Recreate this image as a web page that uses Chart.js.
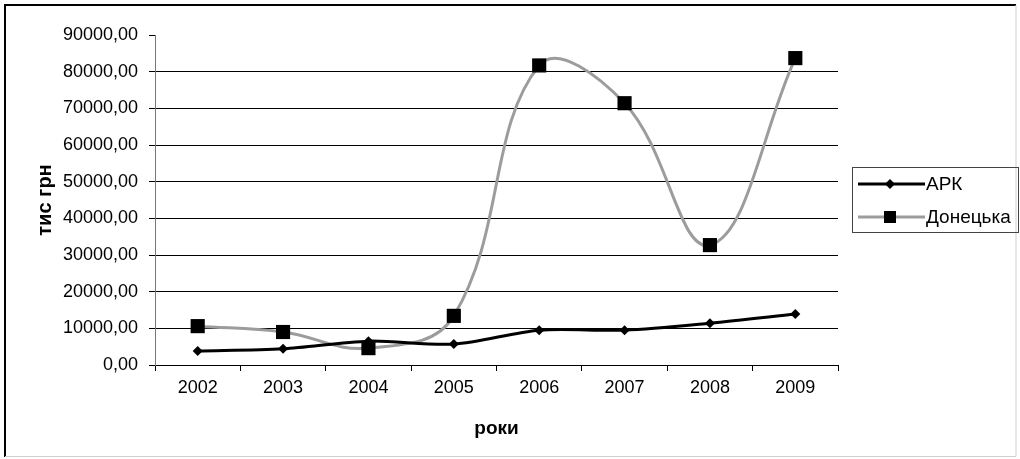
<!DOCTYPE html>
<html lang="uk">
<head>
  <meta charset="UTF-8">
  <title>АРК / Донецька</title>
  <script src="https://cdn.jsdelivr.net/npm/chart.js"></script>
  <style>
    body {
      margin: 0;
      background: #fff;
    }
    .wrap {
      width: 1020px;
      height: 459px;
    }
  </style>
</head>
<body>
  <div class="wrap"><canvas id="chart" width="1020" height="459"></canvas></div>

  <script>
    const roky = ['2002', '2003', '2004', '2005', '2006', '2007', '2008', '2009'];
    const ark = [3800, 4400, 6500, 5700, 9500, 9500, 11400, 13900];
    const donetska = [10600, 9000, 4600, 13400, 81700, 71400, 32700, 83700];

    const font = 'Liberation Sans, Arial, sans-serif';

    // рамка навколо діаграми і легенда праворуч
    const framePlugin = {
      id: 'frame',
      afterDraw(chart) {
        const c = chart.ctx;
        c.save();
        c.strokeStyle = '#000';
        c.lineWidth = 2;
        c.beginPath();
        c.moveTo(5, 457);
        c.lineTo(5, 5);
        c.lineTo(1016, 5);
        c.stroke();
        c.strokeStyle = '#cfcfcf';
        c.lineWidth = 1;
        c.beginPath();
        c.moveTo(1016, 5);
        c.lineTo(1016, 456.5);
        c.lineTo(5, 456.5);
        c.stroke();

        // легенда
        c.strokeStyle = '#444';
        c.lineWidth = 1;
        c.strokeRect(852.5, 167.5, 166, 65);
        c.font = '19px ' + font;
        c.textBaseline = 'middle';
        chart.data.datasets.forEach((ds, i) => {
          const y = 184 + i * 33;
          c.strokeStyle = ds.borderColor;
          c.lineWidth = 3;
          c.beginPath();
          c.moveTo(858, y);
          c.lineTo(925, y);
          c.stroke();
          c.fillStyle = '#000';
          c.beginPath();
          if (ds.pointStyle === 'rect') {
            c.rect(884, y - 6, 12, 12);
          } else {
            c.moveTo(890, y - 5);
            c.lineTo(895, y);
            c.lineTo(890, y + 5);
            c.lineTo(885, y);
            c.closePath();
          }
          c.fill();
          c.fillText(ds.label, 926, y + 1);
        });
        c.restore();
      }
    };

    const ctx = document.getElementById('chart').getContext('2d');
    const chart = new Chart(ctx, {
      type: 'line',
      data: {
        labels: roky,
        datasets: [
          {
            label: 'АРК',
            data: ark,
            borderColor: '#000',
            backgroundColor: '#000',
            borderWidth: 3,
            tension: 0.3,
            pointStyle: 'rectRot',
            pointRadius: 5,
            pointBorderWidth: 0,
            fill: false
          },
          {
            label: 'Донецька',
            data: donetska,
            borderColor: '#9c9c9c',
            backgroundColor: '#000',
            borderWidth: 3,
            tension: 0.4,
            pointStyle: 'rect',
            pointRadius: 10,
            pointBorderWidth: 0,
            fill: false
          }
        ]
      },
      options: {
        responsive: false,
        animation: false,
        layout: {
          padding: { left: 0, top: 35, right: 182, bottom: 0 }
        },
        scales: {
          x: {
            offset: true,
            afterFit: s => { s.height = 94; },
            grid: {
              offset: true,
              drawOnChartArea: false,
              drawTicks: true,
              tickLength: 6,
              tickColor: '#000'
            },
            border: { color: '#000', width: 1 },
            ticks: {
              color: '#000',
              padding: 6,
              font: { family: font, size: 18 }
            },
            title: {
              display: true,
              text: 'роки',
              color: '#000',
              padding: { top: 0, bottom: 19 },
              font: { family: font, size: 19, weight: 'bold' }
            }
          },
          y: {
            min: 0,
            max: 90000,
            afterFit: s => { s.width = 155; },
            grid: {
              color: c => c.tick && c.tick.value === 90000 ? 'rgba(0,0,0,0)' : '#000',
              tickColor: '#000',
              tickLength: 6,
              lineWidth: 1
            },
            border: { color: '#777', width: 1 },
            ticks: {
              stepSize: 10000,
              color: '#000',
              padding: 11,
              font: { family: font, size: 18 },
              callback: v => v.toFixed(2).replace('.', ',')
            },
            title: {
              display: true,
              text: 'тис грн',
              color: '#000',
              padding: { top: 33, bottom: 0 },
              font: { family: font, size: 20, weight: 'bold' }
            }
          }
        },
        plugins: {
          legend: { display: false },
          tooltip: { enabled: false }
        }
      },
      plugins: [framePlugin]
    });
  </script>
</body>
</html>
